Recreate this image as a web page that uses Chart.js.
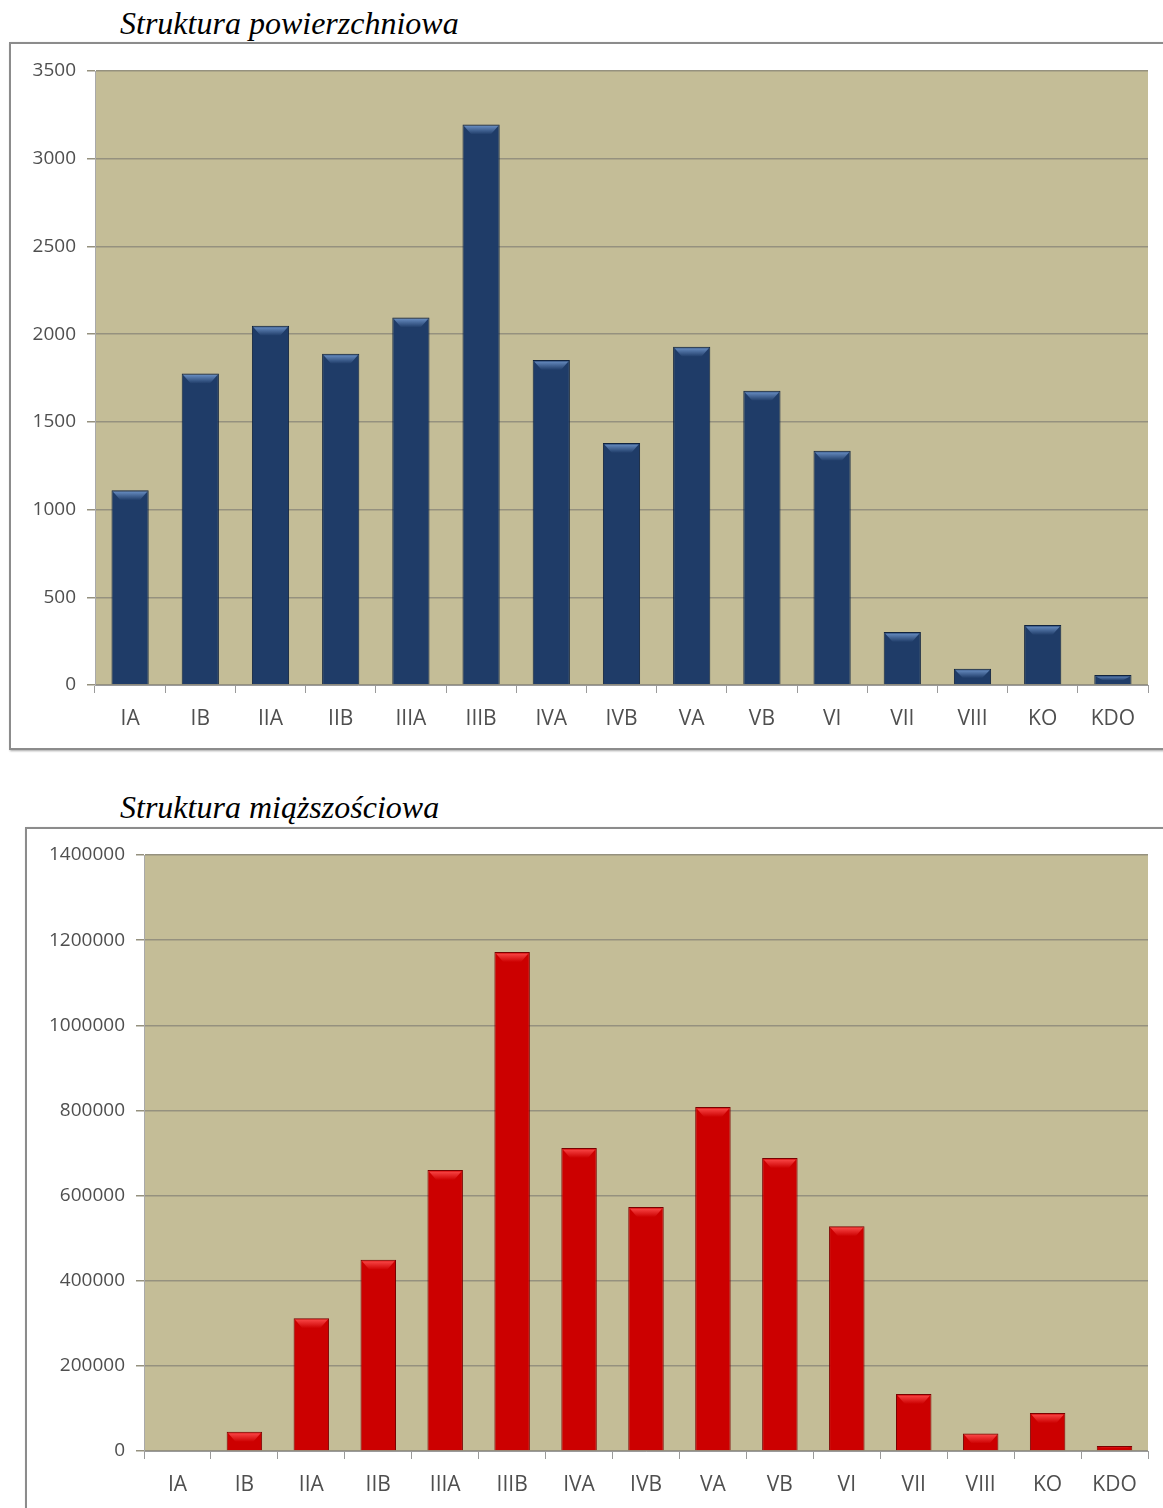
<!DOCTYPE html>
<html>
<head>
<meta charset="utf-8">
<script src="https://cdn.jsdelivr.net/npm/chart.js@4.4.0/dist/chart.umd.min.js"></script>
<style>
  html, body { margin: 0; padding: 0; background: #fff; }
  body { width: 1163px; height: 1508px; position: relative; overflow: hidden; }
  .title {
    position: absolute; left: 120px;
    font-family: "Liberation Serif", "Times New Roman", serif;
    font-style: italic; font-size: 32px; line-height: 32px; color: #000;
    white-space: nowrap;
  }
  .frame {
    position: absolute; border: 2px solid #8c8c8c;
    box-shadow: 1px 1px 2px rgba(0,0,0,0.35);
    background: #fff;
  }
  canvas { position: absolute; }
</style>
</head>
<body>
<div class="title" style="top:7px">Struktura powierzchniowa</div>
<div class="frame" style="left:9px; top:42px; width:1170px; height:704px"></div>
<canvas id="areaChart" width="1152" height="706" style="left:11px; top:44px"></canvas>

<div class="title" style="top:791px">Struktura miąższościowa</div>
<div class="frame" style="left:25px; top:827px; width:1160px; height:720px"></div>
<canvas id="volumeChart" width="1136" height="679" style="left:27px; top:829px"></canvas>

<script>
// ================================
// DATA
// ================================
const classes = ['IA', 'IB', 'IIA', 'IIB', 'IIIA', 'IIIB', 'IVA', 'IVB', 'VA', 'VB', 'VI', 'VII', 'VIII', 'KO', 'KDO'];

const areaValues = [1110, 1775, 2048, 1888, 2095, 3195, 1853, 1380, 1928, 1677, 1335, 302, 92, 342, 57];
const volumeValues = [0, 45000, 312000, 449000, 660000, 1172000, 712000, 573000, 808000, 688000, 528000, 134000, 41000, 89000, 12000];

const areaTicks = { max: 3500, step: 500 };
const volumeTicks = { max: 1400000, step: 200000 };

// ================================
// STYLE
// ================================
const PLOT_BG = '#c4bd97';
const GRID = '#95917f';
const LABEL = '#4f4f4f';
const FONT = "'Open Sans', 'DejaVu Sans', sans-serif";

// plot area fill
const plotBackground = {
  id: 'plotBackground',
  beforeDraw(chart) {
    const { ctx, chartArea: a } = chart;
    ctx.save();
    ctx.fillStyle = PLOT_BG;
    ctx.fillRect(a.left, a.top, a.right - a.left, a.bottom - a.top);
    ctx.restore();
  }
};

// bevelled top cap on each bar
const bevelCap = {
  id: 'bevelCap',
  afterDatasetsDraw(chart, args, opts) {
    const { ctx } = chart;
    const meta = chart.getDatasetMeta(0);
    ctx.save();
    meta.data.forEach(bar => {
      const h = bar.base - bar.y;
      if (h < 2) return;
      const w = bar.width;
      const left = bar.x - w / 2;
      const capH = Math.min(10, h * 0.6);
      const inset = Math.min(9, w * 0.25);
      const g = ctx.createLinearGradient(0, bar.y, 0, bar.y + capH);
      g.addColorStop(0, opts.light);
      g.addColorStop(1, opts.mid);
      ctx.fillStyle = g;
      ctx.beginPath();
      ctx.moveTo(left + 1.5, bar.y + 1.5);
      ctx.lineTo(left + w - 1.5, bar.y + 1.5);
      ctx.lineTo(left + w - inset, bar.y + capH);
      ctx.lineTo(left + inset, bar.y + capH);
      ctx.closePath();
      ctx.fill();
    });
    ctx.restore();
  }
};

function barFill(edge, centre) {
  return (context) => {
    const bar = context.element;
    if (!bar || !isFinite(bar.x) || !bar.width) return centre;
    const x0 = bar.x - bar.width / 2;
    const g = context.chart.ctx.createLinearGradient(x0, 0, x0 + bar.width, 0);
    g.addColorStop(0, edge);
    g.addColorStop(0.12, centre);
    g.addColorStop(0.88, centre);
    g.addColorStop(1, edge);
    return g;
  };
}

// ================================
// CHART
// ================================
function buildChart(id, values, ticks, colours, layout) {
  return new Chart(document.getElementById(id), {
    type: 'bar',
    data: {
      labels: classes,
      datasets: [{
        data: values,
        backgroundColor: barFill(colours.edge, colours.centre),
        borderColor: colours.border,
        borderWidth: 1,
        borderSkipped: 'bottom',
        barPercentage: 0.53,
        categoryPercentage: 1
      }]
    },
    options: {
      responsive: false,
      animation: false,
      layout: { padding: { top: layout.top, right: layout.right, left: 0, bottom: 0 } },
      plugins: {
        legend: { display: false },
        tooltip: { enabled: false },
        bevelCap: { light: colours.light, mid: colours.centre }
      },
      scales: {
        x: {
          grid: { drawOnChartArea: false, drawTicks: true, tickLength: 8, color: '#9a9a9a', offset: true },
          border: { color: '#9a9a9a', width: 1 },
          ticks: { color: LABEL, font: { family: FONT, size: 21 }, padding: 13 },
          afterFit(scale) { scale.height = layout.xHeight; }
        },
        y: {
          min: 0,
          max: ticks.max,
          grid: { color: GRID, lineWidth: 1.5, tickLength: 8, drawTicks: true },
          border: { color: '#a9a9a9', width: 1 },
          ticks: {
            stepSize: ticks.step, color: LABEL, font: { family: FONT, size: 19 }, padding: 11,
            callback: (v) => String(v)
          },
          afterFit(scale) { scale.width = layout.yWidth; }
        }
      }
    },
    plugins: [plotBackground, bevelCap]
  });
}

document.addEventListener('DOMContentLoaded', () => {
  buildChart('areaChart', areaValues, areaTicks,
    { edge: '#132a4c', centre: '#1f3c68', border: '#10233f', light: '#7197cc' },
    { top: 27, right: 15, xHeight: 65, yWidth: 84 });

  buildChart('volumeChart', volumeValues, volumeTicks,
    { edge: '#a00000', centre: '#cc0000', border: '#7a0000', light: '#ff5050' },
    { top: 26, right: 15, xHeight: 57, yWidth: 117 });
});
</script>
</body>
</html>
